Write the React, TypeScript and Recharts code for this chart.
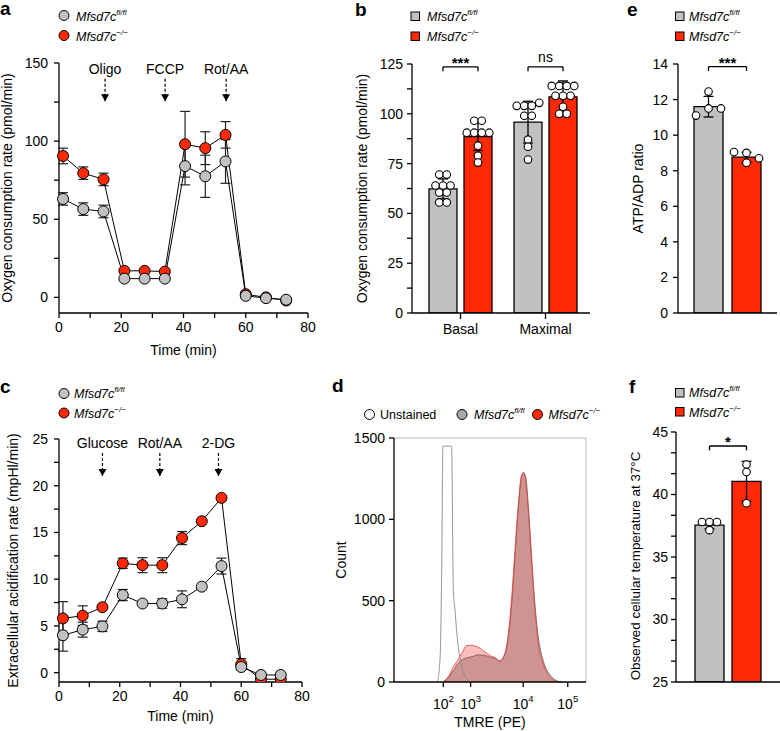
import React from "react";
import {
  ComposedChart,
  Line,
  Bar,
  Scatter,
  Area,
  XAxis,
  YAxis,
  ErrorBar,
  ReferenceLine,
  ReferenceDot,
} from "recharts";

const FONT = "'Liberation Sans', Arial, Helvetica, sans-serif";
const GRAY = "#c1c1c1";
const RED = "#ff2a05";
const INK = "#000";

// a – Seahorse oxygen consumption trace
const seahorseTime = [1.3, 7.8, 14.3, 21, 27.5, 34, 40.5, 47, 53.5, 60, 66.5, 73];
const ocrFl = [63, 56.5, 55, 12, 12, 12, 84, 77.5, 87, 1, -0.5, -1.5];
const ocrFlSd = [4, 4, 4, 0, 0, 0, 12, 13.5, 14, 0, 0, 0];
const ocrKo = [90.5, 79.5, 75.5, 17, 17, 16.5, 98, 95.5, 104, 2, 0, -2];
const ocrKoSd = [5, 4, 4, 0, 0, 0, 21, 10.5, 8.5, 0, 0, 0];
const ocrInjectTime = [14.8, 34.1, 53.7];
const ocrInjectLabel = ["Oligo", "FCCP", "Rot/AA"];

// c – extracellular acidification trace
const ecarFl = [4.0, 4.6, 4.95, 8.3, 7.4, 7.4, 7.85, 9.2, 11.4, 0.6, -0.25, -0.25];
const ecarFlSd = [1.7, 0.8, 0.55, 0.6, 0, 0.5, 0.9, 0, 0.85, 0, 0, 0];
const ecarKo = [5.8, 6.1, 7.0, 11.7, 11.5, 11.5, 14.4, 16.2, 18.7, 0.9, -0.7, -0.7];
const ecarKoSd = [1.8, 1.05, 0, 0.55, 0.8, 0.8, 0.7, 0, 0, 0.6, 0, 0];
const ecarInjectTime = [14.3, 33.2, 52.5];
const ecarInjectLabel = ["Glucose", "Rot/AA", "2-DG"];

const timeTicks = [0, 10, 20, 30, 40, 50, 60, 70, 80];

// b – basal / maximal OCR
const ocrPhases = ["Basal", "Maximal"];
const ocrPhaseFl = [62.3, 95.8];
const ocrPhaseFlSd = [5, 10.5];
const ocrPhaseKo = [88.6, 108.5];
const ocrPhaseKoSd = [7, 8];
const basalFlDots = [69.5, 69.5, 64, 64, 64, 60.5, 60.5, 55.5, 55.5];
const basalKoDots = [96.5, 96.5, 90.5, 90.5, 90.5, 90.5, 84, 79, 75.5];
const maximalFlDots = [104, 104, 104, 105.5, 99, 99, 87, 83.5, 77];
const maximalKoDots = [114, 114, 114, 114, 109, 109, 109, 103.5, 100, 100];
const ocrPhaseSig = ["***", "ns"];

// e – ATP/ADP ratio
const atpFl = [11.6];
const atpFlSd = [0.58];
const atpKo = [8.76];
const atpKoSd = [0.28];
const atpFlDots = [12.45, 11.1, 11.5, 11.5];
const atpKoDots = [9.05, 9.0, 8.7, 8.45];
const atpSig = ["***"];

// f – cellular temperature
const tempFl = [37.55];
const tempFlSd = [0.3];
const tempKo = [41.05];
const tempKoSd = [1.6];
const tempFlDots = [37.8, 37.8, 37.8, 37.15];
const tempKoDots = [42.4, 41.8, 39.3];
const tempSig = ["*"];

// d – TMRE histogram (display channel 0-1000 on the biexponential axis)
const tmreChannel = [226, 240, 248, 255, 275, 292, 300, 309, 318, 326, 335, 344, 352, 361, 378, 396, 413, 439, 474, 500, 535, 549, 578, 595, 613, 630, 648, 665, 674, 687, 700, 717, 734, 752, 778, 812, 847, 873];
const tmreUnstained = [0, 150, 650, 1450, 1450, 1450, 1450, 566, 439, 316, 214, 143, 100, 61, 20, 0, null, null, null, null, null, null, null, null, null, null, null, null, null, null, null, null, null, null, null, null, null, null];
const tmreFl = [null, null, null, 0, 15, 40, 55, 70, 85, 102, 115, 125, 133, 140, 148, 153, 158, 167, 163, 153, 140, 129, 169, 273, 479, 769, 1078, 1264, 1289, 1254, 1078, 769, 479, 273, 128, 45, 8, 0];
const tmreKo = [null, null, null, 0, 22, 51, 70, 95, 110, 122, 140, 160, 173, 195, 224, 226, 224, 214, 184, 163, 143, 129, 180, 293, 520, 810, 1099, 1275, 1285, 1223, 1037, 727, 438, 231, 107, 29, 4, 0];
const tmreDecadeChannel = [257, 399, 673, 905];
const tmreDecadeExp = ["2", "3", "4", "5"];

const axisLine = { stroke: INK, strokeWidth: 1.3 };
const tickFont = { fontSize: 14, fill: INK };

const majorOnly = (major: number) => (v: number) =>
  Math.abs(v / major - Math.round(v / major)) < 1e-6 ? String(Math.round(v)) : "";

const range = (start: number, stop: number, step: number) => {
  const out: number[] = [];
  for (let k = 0; start + k * step <= stop + 1e-9; k++) out.push(start + k * step);
  return out;
};

// spread dots that share a value horizontally, like a scatter dot plot
function swarm(values: number[], center: number, tol: number, step: number) {
  const order = values.map((_, i) => i).sort((a, b) => values[b] - values[a]);
  const rows: number[][] = [];
  order.forEach((i) => {
    const row = rows[rows.length - 1];
    if (row && values[row[0]] - values[i] <= tol) row.push(i);
    else rows.push([i]);
  });
  return rows.flatMap((row) => {
    const sorted = [...row].sort((a, b) => a - b);
    return sorted.map((i, k) => ({ x: center + (k - (sorted.length - 1) / 2) * step, y: values[i] }));
  });
}

const ArrowHead = (props: any) => (
  <path d={`M${props.cx - 4},${props.cy - 7}L${props.cx + 4},${props.cy - 7}L${props.cx},${props.cy}Z`} fill={INK} />
);

const OpenDot = (props: any) => (
  <circle cx={props.cx} cy={props.cy} r={3.8} fill="#fff" stroke={INK} strokeWidth={1.1} />
);

type LinePanelProps = {
  left: number;
  top: number;
  height: number;
  marginTop: number;
  marginRight: number;
  xAxisHeight: number;
  fl: number[];
  flSd: number[];
  ko: number[];
  koSd: number[];
  yDomain: [number, number];
  yTicks: number[];
  yMajor: number;
  injectTime: number[];
  injectLabel: string[];
  arrowTop: number;
  arrowTip: number;
  yLabel: string;
  yLabelX: number;
  xLabelOffset: number;
};

function LinePanel(p: LinePanelProps) {
  const rows = seahorseTime.map((t, i) => ({ t, fl: p.fl[i], flSd: p.flSd[i], ko: p.ko[i], koSd: p.koSd[i] }));
  return (
    <div style={{ position: "absolute", left: p.left, top: p.top }}>
      <ComposedChart
        width={320}
        height={p.height}
        data={rows}
        margin={{ top: p.marginTop, right: p.marginRight, bottom: 0, left: 0 }}
      >
        <XAxis
          dataKey="t"
          type="number"
          domain={[0, 80]}
          ticks={timeTicks}
          tickFormatter={majorOnly(20)}
          interval={0}
          height={p.xAxisHeight}
          axisLine={axisLine}
          tickLine={axisLine}
          tickSize={5}
          tickMargin={4}
          tick={tickFont}
          label={{ value: "Time (min)", position: "insideBottom", offset: p.xLabelOffset, fontSize: 14, fill: INK }}
        />
        <YAxis
          type="number"
          domain={p.yDomain}
          ticks={p.yTicks}
          tickFormatter={majorOnly(p.yMajor)}
          interval={0}
          width={59}
          axisLine={axisLine}
          tickLine={axisLine}
          tickSize={5}
          tickMargin={6}
          tick={tickFont}
          allowDataOverflow
          label={{
            value: p.yLabel,
            angle: -90,
            position: "insideLeft",
            offset: p.yLabelX,
            fontSize: 14,
            fill: INK,
            style: { textAnchor: "middle" },
          }}
        />
        {p.injectTime.map((t, i) => (
          <ReferenceLine
            key={`inj${i}`}
            segment={[
              { x: t, y: p.arrowTop },
              { x: t, y: p.arrowTip },
            ]}
            stroke={INK}
            strokeWidth={1.2}
            strokeDasharray="3 2"
            label={{ value: p.injectLabel[i], position: "top", offset: 5, fontSize: 14, fill: INK }}
          />
        ))}
        {p.injectTime.map((t, i) => (
          <ReferenceDot key={`tip${i}`} x={t} y={p.arrowTip} shape={ArrowHead} />
        ))}
        <Line
          dataKey="ko"
          stroke={INK}
          strokeWidth={1}
          dot={{ r: 5.5, fill: RED, stroke: INK, strokeWidth: 1 }}
          activeDot={false}
          isAnimationActive={false}
        >
          <ErrorBar dataKey="koSd" width={5} stroke="#222" strokeWidth={1.2} />
        </Line>
        <Line
          dataKey="fl"
          stroke={INK}
          strokeWidth={1}
          dot={{ r: 5.5, fill: GRAY, stroke: INK, strokeWidth: 1 }}
          activeDot={false}
          isAnimationActive={false}
        >
          <ErrorBar dataKey="flSd" width={5} stroke="#222" strokeWidth={1.2} />
        </Line>
      </ComposedChart>
    </div>
  );
}

type BarPanelProps = {
  left: number;
  top: number;
  width: number;
  height: number;
  marginTop: number;
  marginRight: number;
  yAxisWidth: number;
  xAxisHeight: number;
  padL: number;
  padR: number;
  barSize: number;
  barGap: number;
  groups: string[];
  showGroups: boolean;
  fl: number[];
  flSd: number[];
  ko: number[];
  koSd: number[];
  flDots: number[][];
  koDots: number[][];
  tol: number;
  stepPx: number;
  yDomain: [number, number];
  yTicks: number[];
  yMajor: number;
  yTickMargin: number;
  yLabel: string;
  yLabelX: number;
  yLabelSize: number;
  yLabelShift: number;
  sig: string[];
  sigY: number;
  sigDrop: number;
};

function BarPanel(p: BarPanelProps) {
  const n = p.groups.length;
  const rows = p.groups.map((g, i) => ({ group: g, fl: p.fl[i], flSd: p.flSd[i], ko: p.ko[i], koSd: p.koSd[i] }));
  const band = (p.width - p.yAxisWidth - p.marginRight - p.padL - p.padR) / n;
  const lead = Math.floor((band - 2 * p.barSize - p.barGap) / 2);
  const flPos = (lead + p.barSize / 2) / band;
  const koPos = (lead + p.barSize * 1.5 + p.barGap) / band;
  const step = p.stepPx / band;
  const dots = p.groups.flatMap((_, i) => [
    ...swarm(p.flDots[i], i + flPos, p.tol, step),
    ...swarm(p.koDots[i], i + koPos, p.tol, step),
  ]);
  const line = { stroke: INK, strokeWidth: 1.3 };
  return (
    <div style={{ position: "absolute", left: p.left, top: p.top }}>
      <ComposedChart
        width={p.width}
        height={p.height}
        data={rows}
        barGap={p.barGap}
        margin={{ top: p.marginTop, right: p.marginRight, bottom: 0, left: 0 }}
      >
        <XAxis
          xAxisId="cat"
          dataKey="group"
          type="category"
          padding={{ left: p.padL, right: p.padR }}
          height={p.xAxisHeight}
          axisLine={axisLine}
          tickLine={p.showGroups ? axisLine : false}
          tick={p.showGroups ? tickFont : false}
          tickSize={6}
          tickMargin={5}
        />
        <XAxis
          xAxisId="jit"
          dataKey="x"
          type="number"
          domain={[0, n]}
          padding={{ left: p.padL, right: p.padR }}
          allowDataOverflow
          hide
        />
        <YAxis
          type="number"
          domain={p.yDomain}
          ticks={p.yTicks}
          tickFormatter={majorOnly(p.yMajor)}
          interval={0}
          width={p.yAxisWidth}
          axisLine={axisLine}
          tickLine={axisLine}
          tickSize={5}
          tickMargin={p.yTickMargin}
          tick={tickFont}
          allowDataOverflow
          label={{
            value: p.yLabel,
            angle: -90,
            position: "insideLeft",
            offset: p.yLabelX,
            dy: p.yLabelShift,
            fontSize: p.yLabelSize,
            fill: INK,
            style: { textAnchor: "middle" },
          }}
        />
        <Bar xAxisId="cat" dataKey="fl" fill={GRAY} stroke={INK} strokeWidth={1.3} barSize={p.barSize} isAnimationActive={false}>
          <ErrorBar dataKey="flSd" width={5} stroke={INK} strokeWidth={1.3} />
        </Bar>
        <Bar xAxisId="cat" dataKey="ko" fill={RED} stroke={INK} strokeWidth={1.3} barSize={p.barSize} isAnimationActive={false}>
          <ErrorBar dataKey="koSd" width={5} stroke={INK} strokeWidth={1.3} />
        </Bar>
        <Scatter xAxisId="jit" data={dots} dataKey="y" shape={OpenDot} isAnimationActive={false} />
        {p.sig.map((s, i) => {
          const stars = s.startsWith("*");
          return (
            <ReferenceLine
              key={`sig${i}`}
              xAxisId="jit"
              segment={[
                { x: i + flPos, y: p.sigY },
                { x: i + koPos, y: p.sigY },
              ]}
              {...line}
              label={{
                value: s,
                position: "top",
                offset: stars ? -1 : 5,
                fontSize: stars ? 15 : 14,
                fontWeight: stars ? "bold" : "normal",
                fill: INK,
              }}
            />
          );
        })}
        {p.sig.map((_, i) => (
          <ReferenceLine
            key={`sl${i}`}
            xAxisId="jit"
            segment={[
              { x: i + flPos, y: p.sigY },
              { x: i + flPos, y: p.sigY - p.sigDrop },
            ]}
            {...line}
          />
        ))}
        {p.sig.map((_, i) => (
          <ReferenceLine
            key={`sr${i}`}
            xAxisId="jit"
            segment={[
              { x: i + koPos, y: p.sigY },
              { x: i + koPos, y: p.sigY - p.sigDrop },
            ]}
            {...line}
          />
        ))}
      </ComposedChart>
    </div>
  );
}

const DecadeTick = (props: any) => {
  const idx = tmreDecadeChannel.indexOf(props.payload.value);
  return (
    <text x={props.x} y={props.y + 20} textAnchor="middle" fontSize={14} fill={INK}>
      10
      <tspan dy={-7} fontSize={9.5}>
        {tmreDecadeExp[idx]}
      </tspan>
    </text>
  );
};

function HistPanel() {
  const rows = tmreChannel.map((ch, i) => ({ ch, unst: tmreUnstained[i], fl: tmreFl[i], ko: tmreKo[i] }));
  return (
    <div style={{ position: "absolute", left: 330, top: 400 }}>
      <ComposedChart width={260} height={331} data={rows} margin={{ top: 38, right: 4, bottom: 0, left: 0 }}>
        <XAxis
          dataKey="ch"
          type="number"
          domain={[0, 1000]}
          ticks={tmreDecadeChannel}
          interval={0}
          tick={<DecadeTick />}
          height={49}
          axisLine={axisLine}
          tickLine={axisLine}
          tickSize={5}
          tickMargin={2}
          label={{ value: "TMRE (PE)", position: "insideBottom", offset: 4, fontSize: 14, fill: INK }}
        />
        <YAxis
          type="number"
          domain={[0, 1500]}
          ticks={[0, 500, 1000, 1500]}
          interval={0}
          width={64}
          axisLine={axisLine}
          tickLine={axisLine}
          tickSize={5}
          tickMargin={4}
          tick={tickFont}
          label={{
            value: "Count",
            angle: -90,
            position: "insideLeft",
            offset: 10.8,
            fontSize: 14,
            fill: INK,
            style: { textAnchor: "middle" },
          }}
        />
        <ReferenceLine y={1500} stroke="#b8b8b8" strokeWidth={1} />
        <ReferenceLine x={1000} stroke="#b8b8b8" strokeWidth={1} />
        <Area
          dataKey="fl"
          type="monotone"
          fill="#a8a8a8"
          fillOpacity={0.72}
          stroke="#5a5a5a"
          strokeWidth={0.8}
          activeDot={false}
          isAnimationActive={false}
        />
        <Area
          dataKey="ko"
          type="monotone"
          fill="#ea3b30"
          fillOpacity={0.33}
          stroke="#e8403a"
          strokeWidth={0.8}
          activeDot={false}
          isAnimationActive={false}
        />
        <Area
          dataKey="unst"
          type="monotone"
          fill="none"
          stroke="#8a8a8a"
          strokeWidth={0.9}
          activeDot={false}
          isAnimationActive={false}
        />
      </ComposedChart>
    </div>
  );
}

const Geno = ({ x, y, sup }: { x: number; y: number; sup: string }) => (
  <text x={x} y={y} fontSize={12.5} fontStyle="italic" fill={INK}>
    Mfsd7c
    <tspan dy={-6} fontSize={8}>
      {sup}
    </tspan>
  </text>
);

const FL = "fl/fl";
const KO = "\u2212/\u2212";

function Overlay() {
  const dot = { stroke: INK, strokeWidth: 1 };
  return (
    <svg
      width={780}
      height={731}
      style={{ position: "absolute", left: 0, top: 0, pointerEvents: "none", fontFamily: FONT }}
    >
      <g fontSize={19} fontWeight="bold" fill={INK}>
        <text x={0} y={15}>a</text>
        <text x={355} y={16}>b</text>
        <text x={627} y={16}>e</text>
        <text x={0} y={393}>c</text>
        <text x={332} y={392}>d</text>
        <text x={629} y={393}>f</text>
      </g>
      {/* a */}
      <circle cx={64} cy={15.5} r={5} fill={GRAY} {...dot} />
      <Geno x={76} y={20.7} sup={FL} />
      <circle cx={64} cy={35.5} r={5} fill={RED} {...dot} />
      <Geno x={76} y={40.7} sup={KO} />
      {/* b */}
      <rect x={411} y={12} width={8.5} height={8.5} fill={GRAY} {...dot} />
      <Geno x={427} y={20.7} sup={FL} />
      <rect x={411} y={32} width={8.5} height={8.5} fill={RED} {...dot} />
      <Geno x={427} y={40.7} sup={KO} />
      {/* e */}
      <rect x={675.5} y={12} width={8.5} height={8.5} fill={GRAY} {...dot} />
      <Geno x={689} y={20.7} sup={FL} />
      <rect x={675.5} y={32} width={8.5} height={8.5} fill={RED} {...dot} />
      <Geno x={689} y={40.7} sup={KO} />
      {/* c */}
      <circle cx={64} cy={393.5} r={5} fill={GRAY} {...dot} />
      <Geno x={74} y={398} sup={FL} />
      <circle cx={64} cy={413} r={5} fill={RED} {...dot} />
      <Geno x={74} y={418} sup={KO} />
      {/* f */}
      <rect x={675.5} y={388.5} width={8.5} height={8.5} fill={GRAY} {...dot} />
      <Geno x={689} y={397} sup={FL} />
      <rect x={675.5} y={407.5} width={8.5} height={8.5} fill={RED} {...dot} />
      <Geno x={689} y={417} sup={KO} />
      {/* d */}
      <circle cx={369.5} cy={414.5} r={5} fill="#fff" {...dot} />
      <text x={380} y={419.3} fontSize={12.5} fill={INK}>
        Unstained
      </text>
      <circle cx={462} cy={414.5} r={5} fill="#a8a8a8" {...dot} />
      <Geno x={474} y={419.3} sup={FL} />
      <circle cx={537.5} cy={414.5} r={5} fill={RED} {...dot} />
      <Geno x={548.5} y={419.3} sup={KO} />
    </svg>
  );
}

export default function App() {
  return (
    <div style={{ position: "absolute", left: 0, top: 0, width: 780, height: 731, background: "#fff", fontFamily: FONT }}>
      <LinePanel
        left={0}
        top={40}
        height={320}
        marginTop={23}
        marginRight={12}
        xAxisHeight={47}
        fl={ocrFl}
        flSd={ocrFlSd}
        ko={ocrKo}
        koSd={ocrKoSd}
        yDomain={[-10, 150]}
        yTicks={range(0, 150, 25)}
        yMajor={50}
        injectTime={ocrInjectTime}
        injectLabel={ocrInjectLabel}
        arrowTop={140}
        arrowTip={125.6}
        yLabel="Oxygen consumption rate (pmol/min)"
        yLabelX={6.7}
        xLabelOffset={5}
      />
      <LinePanel
        left={0}
        top={410}
        height={321}
        marginTop={29}
        marginRight={18}
        xAxisHeight={49}
        fl={ecarFl}
        flSd={ecarFlSd}
        ko={ecarKo}
        koSd={ecarKoSd}
        yDomain={[-1, 25]}
        yTicks={range(0, 25, 2.5)}
        yMajor={5}
        injectTime={ecarInjectTime}
        injectLabel={ecarInjectLabel}
        arrowTop={23.5}
        arrowTip={21.05}
        yLabel="Extracellular acidification rate (mpHl/min)"
        yLabelX={13.3}
        xLabelOffset={10}
      />
      <BarPanel
        left={330}
        top={40}
        width={260}
        height={330}
        marginTop={24}
        marginRight={0}
        yAxisWidth={82}
        xAxisHeight={57}
        padL={6}
        padR={2}
        barSize={28}
        barGap={7}
        groups={ocrPhases}
        showGroups
        fl={ocrPhaseFl}
        flSd={ocrPhaseFlSd}
        ko={ocrPhaseKo}
        koSd={ocrPhaseKoSd}
        flDots={[basalFlDots, maximalFlDots]}
        koDots={[basalKoDots, maximalKoDots]}
        tol={2.5}
        stepPx={7.5}
        yDomain={[0, 125]}
        yTicks={range(0, 125, 12.5)}
        yMajor={25}
        yTickMargin={4}
        yLabel="Oxygen consumption rate (pmol/min)"
        yLabelX={31.7}
        yLabelSize={14}
        yLabelShift={0}
        sig={ocrPhaseSig}
        sigY={123.6}
        sigDrop={2.2}
      />
      <BarPanel
        left={590}
        top={40}
        width={190}
        height={330}
        marginTop={24}
        marginRight={3}
        yAxisWidth={88}
        xAxisHeight={57}
        padL={0}
        padR={0}
        barSize={29}
        barGap={9}
        groups={["ATP/ADP"]}
        showGroups={false}
        fl={atpFl}
        flSd={atpFlSd}
        ko={atpKo}
        koSd={atpKoSd}
        flDots={[atpFlDots]}
        koDots={[atpKoDots]}
        tol={0.45}
        stepPx={12.5}
        yDomain={[0, 14]}
        yTicks={range(0, 14, 2)}
        yMajor={2}
        yTickMargin={5}
        yLabel="ATP/ADP ratio"
        yLabelX={48}
        yLabelSize={14}
        yLabelShift={0}
        sig={atpSig}
        sigY={13.85}
        sigDrop={0.24}
      />
      <BarPanel
        left={590}
        top={410}
        width={190}
        height={321}
        marginTop={22}
        marginRight={0}
        yAxisWidth={86}
        xAxisHeight={49}
        padL={0}
        padR={0}
        barSize={29}
        barGap={8}
        groups={["Temperature"]}
        showGroups={false}
        fl={tempFl}
        flSd={tempFlSd}
        ko={tempKo}
        koSd={tempKoSd}
        flDots={[tempFlDots]}
        koDots={[tempKoDots]}
        tol={0.5}
        stepPx={7.5}
        yDomain={[25, 45]}
        yTicks={range(25, 45, 5 / 3)}
        yMajor={5}
        yTickMargin={3}
        yLabel="Observed cellular temperature at 37°C"
        yLabelX={45}
        yLabelSize={13.4}
        yLabelShift={9}
        sig={tempSig}
        sigY={43.88}
        sigDrop={0.35}
      />
      <HistPanel />
      <Overlay />
    </div>
  );
}
